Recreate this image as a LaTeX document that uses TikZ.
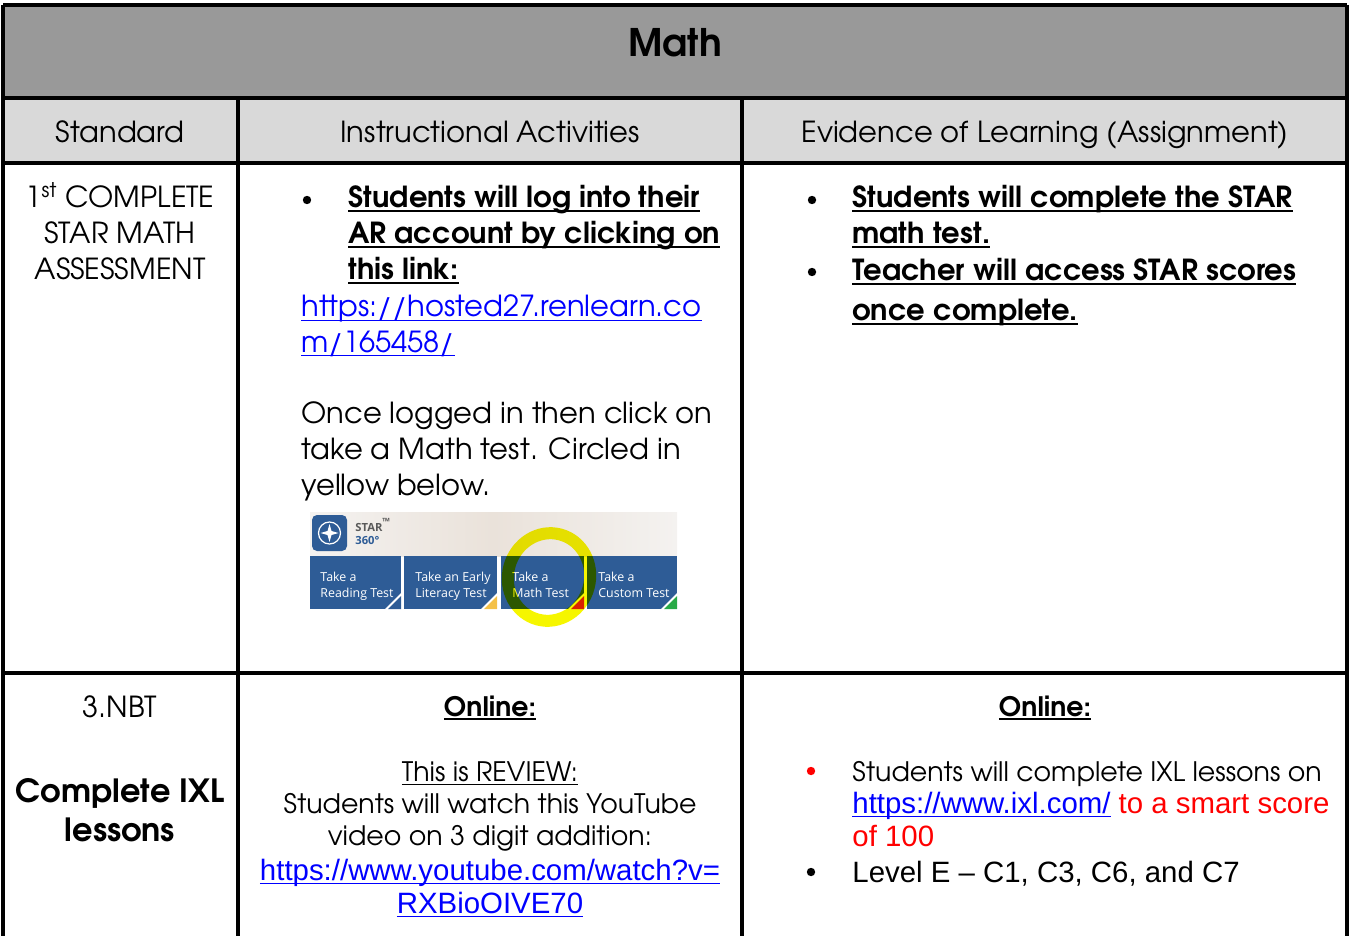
\documentclass[tikz,border=0pt]{standalone}
\usepackage{fontspec}
\setmainfont{TeX Gyre Adventor}
\newfontfamily\arialfont{Liberation Sans}
\newfontfamily\shotfont{Open Sans}
\usetikzlibrary{positioning}
\definecolor{titlegray}{RGB}{153,153,153}
\definecolor{headgray}{RGB}{217,217,217}
\definecolor{linkblue}{RGB}{0,0,255}
\definecolor{tileblue}{RGB}{46,92,150}
\definecolor{shotbgA}{RGB}{244,242,240}
\definecolor{shotbgB}{RGB}{234,226,218}
\definecolor{hiyellow}{RGB}{246,246,0}
\definecolor{tagorange}{RGB}{244,192,70}
\definecolor{tagred}{RGB}{226,36,24}
\definecolor{taggreen}{RGB}{40,170,70}
\definecolor{stargray}{RGB}{90,90,90}
\newcommand{\bodyfont}{\fontsize{14.5}{17}\selectfont}
\newcommand{\smallbody}{\fontsize{13.4}{16}\selectfont}
\newcommand{\titlefont}{\fontsize{19}{22}\selectfont\bfseries}
\newcommand{\bigbold}{\fontsize{16}{19}\selectfont\bfseries}
\newcommand{\arialtext}{\arialfont\fontsize{14.7}{17}\selectfont}
\newcommand{\tilefont}{\shotfont\fontsize{6.2}{7}\selectfont}
\newcommand{\ulbox}[2][1.2pt]{\setbox0\hbox{#2}\rlap{\rule[-2.2pt]{\wd0}{#1}}\box0}
\begin{document}
\begin{tikzpicture}[x=0.5pt,y=-0.5pt,
    rule/.style={line width=1.6pt},
    txt/.style={inner sep=0pt, anchor=base west, font=\bodyfont},
    ctxt/.style={inner sep=0pt, anchor=base, font=\bodyfont},
    dot/.style={circle, fill, inner sep=0pt, minimum size=4.2pt},
    tiletxt/.style={inner sep=0pt, anchor=base west, text=white, font=\tilefont}]
  \clip (0,0) rectangle (1350,936);

  % table shading
  \fill[titlegray] (3,5) rectangle (1347,98);
  \fill[headgray] (3,98) rectangle (1347,163);

  % title and header
  \node[ctxt, font=\titlefont] (title) at (675,57) {Math};
  \node[ctxt] (hstd) at (120,143) {Standard};
  \node[ctxt] (hact) at (490,143) {Instructional Activities};
  \node[ctxt] (hevi) at (1045,143) {Evidence of Learning (Assignment)};

  % row 1, standard
  \node[ctxt] (std1a) at (120,208) {1\textsuperscript{st} COMPLETE};
  \node[ctxt] (std1b) at (120,244) {STAR MATH};
  \node[ctxt] (std1c) at (120,280) {ASSESSMENT};

  % row 1, activities
  \node[dot] (actdot) at (307,200) {};
  \node[txt, font=\bodyfont\bfseries] (act1a) at (348,208) {\ulbox{Students will log into their}};
  \node[txt, font=\bodyfont\bfseries] (act1b) at (348,244) {\ulbox{AR account by clicking on}};
  \node[txt, font=\bodyfont\bfseries] (act1c) at (348,280) {\ulbox{this link:}};
  \node[txt, text=linkblue] (link1a) at (301,317) {\ulbox[0.8pt]{https://hosted27.renlearn.co}};
  \node[txt, text=linkblue] (link1b) at (301,352) {\ulbox[0.8pt]{m/165458/}};
  \node[txt] (once1) at (301,423) {Once logged in then click on};
  \node[txt] (once2) at (301,459) {take a Math test. Circled in};
  \node[txt] (once3) at (301,495) {yellow below.};

  % screenshot of the STAR 360 page
  \shade[left color=shotbgA, right color=shotbgA, middle color=shotbgB] (310,512) rectangle (677,556);
  \fill[tileblue, rounded corners=2.5pt] (312,515) rectangle (347,551);
  \draw[white, line width=0.6pt] (329.5,533) circle[radius=11];
  \fill[white] (329.5,524) -- (331.5,531) -- (338.5,533) -- (331.5,535)
    -- (329.5,542) -- (327.5,535) -- (320.5,533) -- (327.5,531) -- cycle;
  \node[tiletxt, text=stargray, font=\shotfont\fontsize{5.6}{6}\selectfont\bfseries] (star) at (355,531) {STAR\textsuperscript{\tiny\texttrademark}};
  \node[tiletxt, text=tileblue, font=\shotfont\fontsize{5.6}{6}\selectfont\bfseries] (deg) at (355,544) {360°};
  \foreach \xa/\xb/\tag [count=\i] in {310/401/tileblue, 404/497/tagorange, 501/584/tagred, 587/677/taggreen} {
    \fill[tileblue] (\xa,556) rectangle (\xb,609);
    \fill[white] (\xb,593) -- (\xb,609) -- (\xb-16,609) -- cycle;
    \fill[\tag] (\xb,596) -- (\xb,609) -- (\xb-13,609) -- cycle;
  }
  \node[tiletxt] (t1a) at (320,581) {Take a};
  \node[tiletxt] (t1b) at (320,597) {Reading Test};
  \node[tiletxt] (t2a) at (415,581) {Take an Early};
  \node[tiletxt] (t2b) at (415,597) {Literacy Test};
  \node[tiletxt] (t3a) at (512,581) {Take a};
  \node[tiletxt] (t3b) at (512,597) {Math Test};
  \node[tiletxt] (t4a) at (598,581) {Take a};
  \node[tiletxt] (t4b) at (598,597) {Custom Test};
  \begin{scope}[blend mode=multiply]
    \draw[hiyellow, line width=6pt, rotate around={-15:(549,577)}]
      (549,577) ellipse[x radius=41, y radius=44];
  \end{scope}

  % row 1, evidence
  \node[dot] (evidot1) at (812,200) {};
  \node[txt, font=\bodyfont\bfseries] (evi1a) at (852,208) {\ulbox{Students will complete the STAR}};
  \node[txt, font=\bodyfont\bfseries] (evi1b) at (852,244) {\ulbox{math test.}};
  \node[dot] (evidot2) at (812,272) {};
  \node[txt, font=\bodyfont\bfseries] (evi1c) at (852,281) {\ulbox{Teacher will access STAR scores}};
  \node[txt, font=\bodyfont\bfseries] (evi1d) at (852,321) {\ulbox{once complete.}};

  % row 2, standard
  \node[ctxt] (std2a) at (120,717) {3.NBT};
  \node[ctxt, font=\bigbold] (std2b) at (120,802) {Complete IXL};
  \node[ctxt, font=\bigbold] (std2c) at (120,841) {lessons};

  % row 2, activities
  \node[ctxt, font=\smallbody\bfseries] (act2a) at (490,716) {\ulbox{Online:}};
  \node[ctxt, font=\smallbody] (act2b) at (490,781) {\ulbox[0.8pt]{This is REVIEW:}};
  \node[ctxt, font=\smallbody] (act2c) at (490,813) {Students will watch this YouTube};
  \node[ctxt, font=\smallbody] (act2d) at (490,845) {video on 3 digit addition:};
  \node[ctxt, font=\arialtext, text=linkblue] (link2a) at (490,880) {\ulbox[0.8pt]{https://www.youtube.com/watch?v=}};
  \node[ctxt, font=\arialtext, text=linkblue] (link2b) at (490,913) {\ulbox[0.8pt]{RXBioOIVE70}};

  % row 2, evidence
  \node[ctxt, font=\smallbody\bfseries] (evi2a) at (1045,716) {\ulbox{Online:}};
  \node[dot, red] (evidot3) at (811,771) {};
  \node[txt, font=\smallbody] (evi2b) at (852,781) {Students will complete IXL lessons on};
  \node[txt, font=\arialtext, text=linkblue] (evi2c) at (852,813) {\ulbox[0.8pt]{https://www.ixl.com/}\textcolor{red}{\ to a smart score}};
  \node[txt, font=\arialtext, text=red] (evi2d) at (852,846) {of 100};
  \node[dot] (evidot4) at (811,872) {};
  \node[txt, font=\arialtext] (evi2e) at (852,882) {Level E – C1, C3, C6, and C7};

  % table rules
  \draw[rule] (3,5) -- (1347,5);
  \draw[rule] (3,98) -- (1347,98);
  \draw[rule] (3,163) -- (1347,163);
  \draw[rule] (3,673) -- (1347,673);
  \draw[rule] (3,5) -- (3,940);
  \draw[rule] (1347,5) -- (1347,940);
  \draw[rule] (238,98) -- (238,940);
  \draw[rule] (742,98) -- (742,940);
\end{tikzpicture}
\end{document}
